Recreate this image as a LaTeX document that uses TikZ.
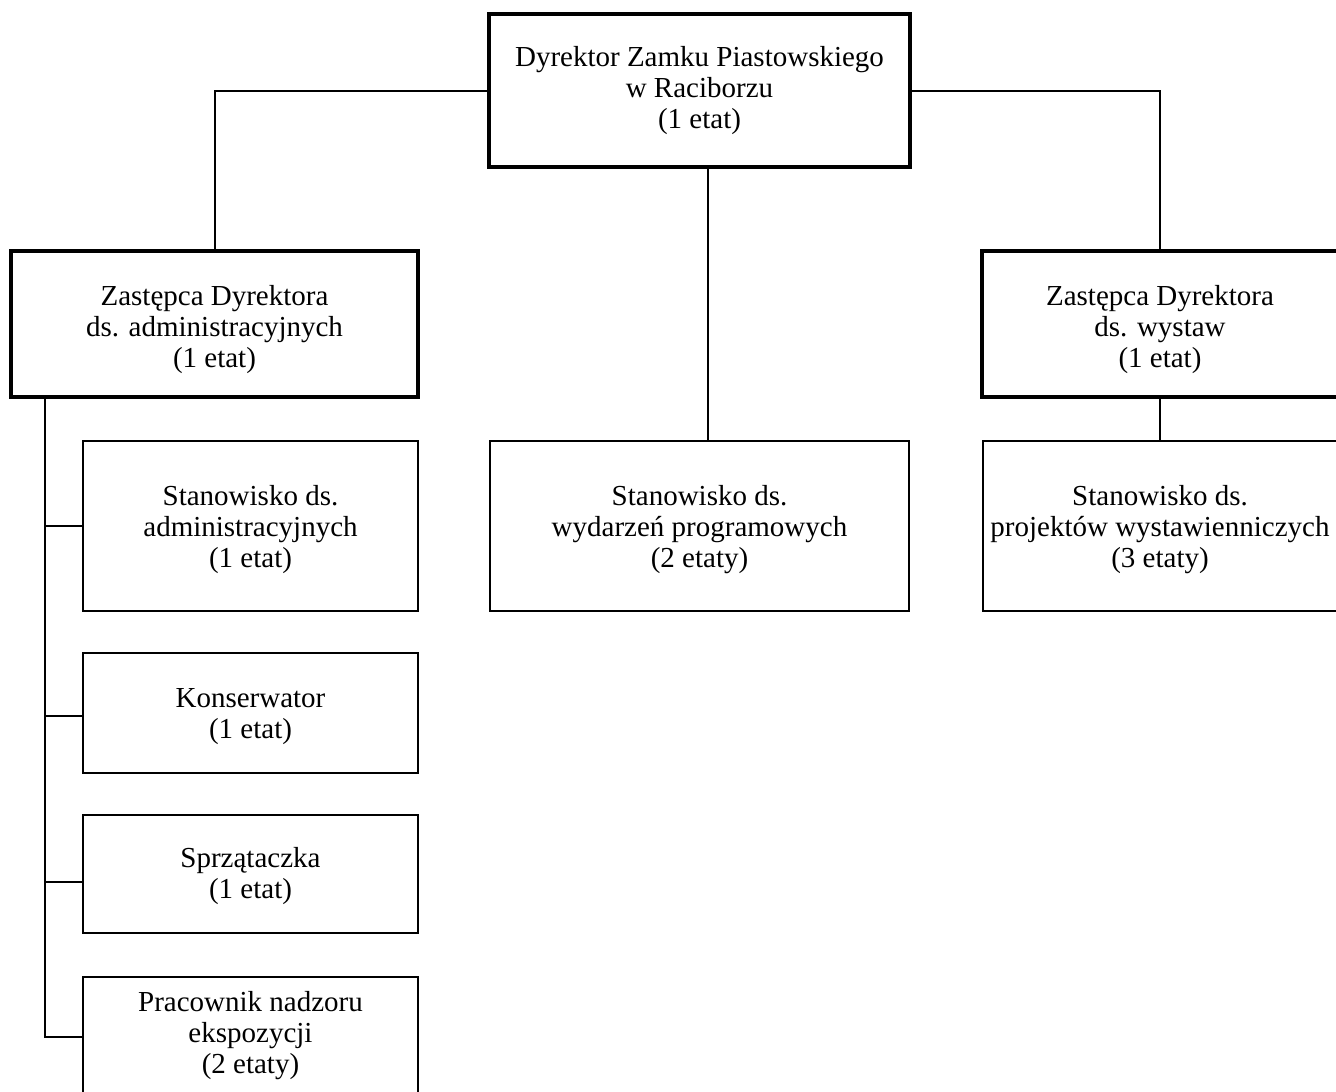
\documentclass[tikz,border=0pt]{standalone}
\usepackage{fontspec}
\setmainfont{Liberation Serif}
\begin{document}
\begin{tikzpicture}[x=1pt,y=-1pt,
  every node/.style={inner sep=0pt, anchor=center},
  txt/.style={font=\fontsize{29}{31}\selectfont, align=center},
  bigbox/.style={draw, line width=4pt, rectangle},
  smallbox/.style={draw, line width=2pt, rectangle},
  conn/.style={line width=2pt}]
\path[use as bounding box] (0,0) rectangle (1336,1092);
\clip (0,0) rectangle (1336,1092);
\fill[white] (0,0) rectangle (1336,1092);
% top
\node[bigbox, minimum width=421pt, minimum height=153pt] (top) at (699.5,90.5) {};
\node[txt] (top-t) at (top.center) {Dyrektor Zamku Piastowskiego\\w Raciborzu\\(1 etat)};
% deputies
\node[bigbox, minimum width=407pt, minimum height=145.5pt] (ldep) at (214.5,323.75) {};
\node[txt] (ldep-t) at ([yshift=-6pt]ldep.center) {Zastępca Dyrektora\\ds. administracyjnych\\(1 etat)};
\node[bigbox, minimum width=356pt, minimum height=145.5pt] (rdep) at (1160,323.75) {};
\node[txt] (rdep-t) at ([yshift=-6pt]rdep.center) {Zastępca Dyrektora\\ds. wystaw\\(1 etat)};
% level 3
\node[smallbox, minimum width=419pt, minimum height=170pt] (mid) at (699.5,526) {};
\node[txt] (mid-t) at ([yshift=-4pt]mid.center) {Stanowisko ds.\\wydarzeń programowych\\(2 etaty)};
\node[smallbox, minimum width=354pt, minimum height=170pt] (rsub) at (1160,526) {};
\node[txt] (rsub-t) at ([yshift=-4pt]rsub.center) {Stanowisko ds.\\projektów wystawienniczych\\(3 etaty)};
\node[smallbox, minimum width=335pt, minimum height=170pt] (s1) at (250.5,526) {};
\node[txt] (s1-t) at ([yshift=-4pt]s1.center) {Stanowisko ds.\\administracyjnych\\(1 etat)};
\node[smallbox, minimum width=335pt, minimum height=120pt] (s2) at (250.5,713) {};
\node[txt] (s2-t) at ([yshift=-4pt]s2.center) {Konserwator\\(1 etat)};
\node[smallbox, minimum width=335pt, minimum height=118pt] (s3) at (250.5,874) {};
\node[txt] (s3-t) at ([yshift=-2pt]s3.center) {Sprzątaczka\\(1 etat)};
\node[smallbox, minimum width=335pt, minimum height=120pt] (s4) at (250.5,1037) {};
\node[txt] (s4-t) at ([yshift=1pt]s4.center) {Pracownik nadzoru\\ekspozycji\\(2 etaty)};
% connectors
\draw[conn] (top.west) -| (ldep.north);
\draw[conn] (top.east) -| (rdep.north);
\draw[conn] ([xshift=8.5pt]top.south) -- ([xshift=8.5pt]mid.north);
\draw[conn] (rdep.south) -- (rsub.north);
\coordinate (trunk) at ([xshift=36pt]ldep.south west);
\draw[conn] (trunk) |- (s4.west);
\draw[conn] (trunk) |- (s1.west);
\draw[conn] (trunk) |- ([yshift=-3pt]s2.west);
\draw[conn] (trunk) |- ([yshift=-8pt]s3.west);
\end{tikzpicture}
\end{document}
